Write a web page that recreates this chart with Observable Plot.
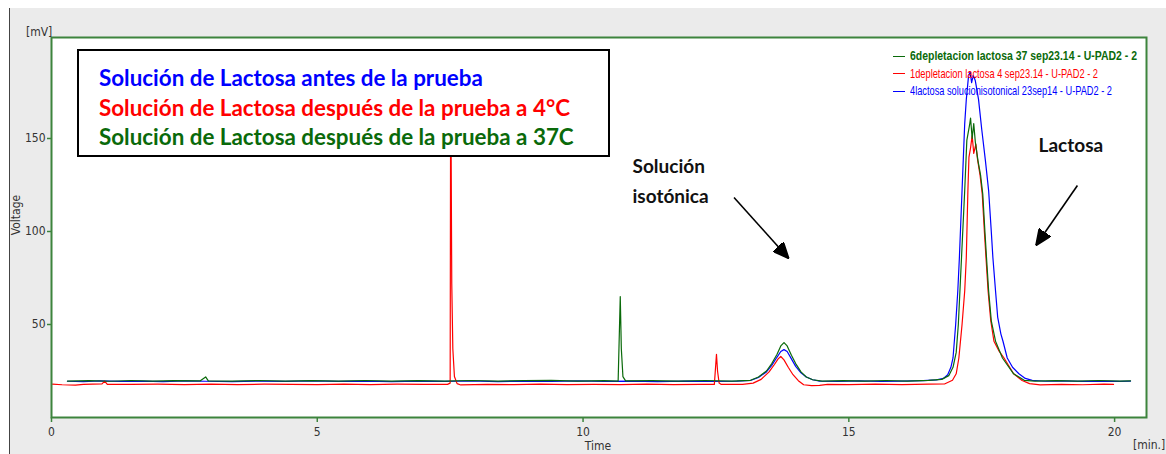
<!DOCTYPE html>
<html>
<head>
<meta charset="utf-8">
<script src="https://cdn.jsdelivr.net/npm/d3@7"></script>
<script src="https://cdn.jsdelivr.net/npm/@observablehq/plot@0.6"></script>
<style>
  html, body { margin: 0; padding: 0; background: #fff; }
  #wrap { position: relative; width: 1166px; height: 454px; overflow: hidden; background: #fff; }
  #panel { position: absolute; left: 9px; top: 8px; right: 0; bottom: 0; background: #ebebeb; border-left: 1.5px solid #444; }
  #chart { position: absolute; left: 0; top: 0; }
  .lab { position: absolute; font-family: "DejaVu Sans Condensed", "Liberation Sans", sans-serif; font-size: 12px; color: #333; white-space: nowrap; }
  #box { position: absolute; left: 77px; top: 49px; width: 533px; height: 108px; box-sizing: border-box; border: 2px solid #000; background: #fff; }
  #box div { position: absolute; left: 20px; font-family: Lato, "Open Sans", sans-serif; font-weight: 700; font-size: 22.4px; line-height: 20px; white-space: nowrap; }
  #leg { position: absolute; left: 893px; top: 47px; font-family: "Liberation Sans", sans-serif; font-size: 13px; }
  #leg div { position: relative; height: 17.5px; line-height: 17.5px; white-space: nowrap; }
  #leg span.sw { position: absolute; left: 0; top: 8.5px; width: 12px; height: 0; border-top: 1.5px solid; }
  #leg span.tx { position: absolute; left: 17px; top: 0; transform-origin: 0 50%; }
</style>
</head>
<body>
<div id="wrap">
  <div id="panel"></div>
  <div id="chart"></div>
  <div class="lab" style="left:26px; top:25px;">[mV]</div>
  <div class="lab" style="left:16px; top:215px; transform: translate(-50%,-50%) rotate(-90deg);">Voltage</div>
  <div class="lab" style="left:598px; top:439px; transform: translateX(-50%);">Time</div>
  <div class="lab" style="left:1133px; top:438px;">[min.]</div>
  <div id="leg"></div>
  <div id="box"></div>
</div>
<script>
// ---------- data ----------
const seriesNames = [
  "6depletacion lactosa 37 sep23.14 - U-PAD2 - 2",
  "1depletacion lactosa 4 sep23.14 - U-PAD2 - 2",
  "4lactosa solucionisotonical 23sep14 - U-PAD2 - 2"
];
const seriesColors = ["#0a6a0a", "#ff0000", "#0000ff"];
const boxLines = [
  "Solución de Lactosa antes de la prueba",
  "Solución de Lactosa después de la prueba a 4°C",
  "Solución de Lactosa después de la prueba a 37C"
];
const boxColors = ["#0000ff", "#ff0000", "#0a6a0a"];
const xTicks = [0, 5, 10, 15, 20];
const yTicks = [50, 100, 150];

// time [min], voltage [mV]
const blue = [
  [0.3,19.5],[0.6,19.3],[0.9,19.7],[1.3,19.4],[1.7,19.6],[2.1,19.3],[2.5,19.7],[2.9,19.5],[3.4,19.3],[3.9,19.6],
  [4.4,19.4],[4.9,19.7],[5.4,19.4],[5.9,19.6],[6.4,19.3],[6.9,19.6],[7.4,19.4],[7.9,19.7],[8.4,19.3],[8.9,19.6],
  [9.4,19.4],[9.9,19.7],[10.4,19.4],[10.9,19.6],[11.4,19.3],[11.9,19.6],[12.4,19.4],[12.9,19.6],[13.15,19.9],
  [13.3,21.5],[13.45,24.5],[13.55,28],[13.65,32.5],[13.72,35.5],[13.78,36.5],[13.84,35.5],[13.92,31.5],[14.0,27.5],
  [14.1,24],[14.2,21.8],[14.32,20.3],[14.45,19.6],[14.8,19.4],[15.2,19.7],[15.6,19.4],[16.0,19.6],[16.4,19.8],
  [16.65,20.2],[16.78,21],[16.86,23],[16.92,27],[16.96,32],[17.01,50],[17.05,68],[17.08,86],[17.13,122],[17.18,158],
  [17.21,171],[17.25,183],[17.28,186],[17.31,180],[17.34,184],[17.38,181],[17.44,171],[17.5,155],[17.57,138],
  [17.63,122],[17.68,100],[17.71,86],[17.76,68],[17.8,54],[17.86,45],[17.9,41],[17.98,32],[18.08,27],[18.2,23.5],[18.32,21],
  [18.45,20],[18.7,19.5],[19.0,19.7],[19.4,19.4],[19.8,19.6],[20.1,19.4],[20.3,19.6]
];
const green = [
  [0.3,19.6],[0.7,19.8],[1.1,19.5],[1.5,19.9],[1.9,19.6],[2.3,19.8],[2.8,19.7],[2.9,21.8],[2.95,19.7],[3.4,19.6],
  [3.9,19.9],[4.4,19.6],[4.9,19.8],[5.4,19.6],[5.9,19.9],[6.4,19.6],[6.9,19.8],[7.4,19.6],[7.9,19.9],[8.4,19.6],
  [8.9,19.8],[9.4,20],[9.9,19.6],[10.4,19.8],[10.66,19.6],[10.7,65],[10.72,37],[10.75,22],[10.8,19.7],[11.3,19.8],
  [11.8,19.6],[12.3,19.9],[12.8,19.6],[13.15,20],[13.3,21.8],[13.45,25],[13.55,29],[13.65,34],[13.72,38.5],
  [13.78,40.3],[13.84,38.5],[13.92,33.5],[14.0,29],[14.1,24.5],[14.2,21.8],[14.32,20.3],[14.5,19.6],[14.9,19.8],
  [15.3,19.6],[15.7,19.9],[16.1,19.6],[16.5,20],[16.75,20.5],[16.88,22.5],[16.96,27],[17.02,35],[17.06,50],
  [17.09,68],[17.12,86],[17.18,122],[17.22,149],[17.27,157],[17.29,161],[17.32,150],[17.35,158],[17.38,148],
  [17.43,138],[17.48,130],[17.52,120],[17.56,100],[17.59,86],[17.63,68],[17.68,52],[17.76,41],[17.89,32],[18.1,23.5],
  [18.3,20],[18.5,19.6],[18.9,19.8],[19.3,19.6],[19.7,19.9],[20.1,19.6],[20.3,19.7]
];
const red = [
  [0.02,17.9],[0.2,17.6],[0.45,17.4],[0.6,17.8],[0.95,18.1],[1.0,19.6],[1.05,17.8],[1.5,17.8],[2.0,17.9],[2.5,17.7],
  [3.0,17.9],[3.5,17.7],[4.0,17.9],[4.5,17.8],[5.0,17.7],[5.5,17.9],[6.0,17.7],[6.5,17.9],[7.0,17.8],[7.45,17.8],
  [7.5,18.5],[7.51,195],[7.53,72],[7.55,37],[7.58,22],[7.63,18.2],[7.7,17.5],[8.2,17.8],[8.7,17.7],[9.2,17.9],
  [9.7,17.7],[10.2,17.8],[10.7,17.7],[11.2,17.9],[11.7,17.7],[12.2,17.8],[12.47,17.8],[12.51,34],[12.53,25],
  [12.56,18.5],[12.6,17.8],[13.0,17.8],[13.2,18.5],[13.35,20.5],[13.5,24.5],[13.6,28.5],[13.67,31.5],[13.72,32.8],
  [13.78,31],[13.86,27],[13.95,23],[14.05,19.8],[14.15,17.6],[14.3,17.1],[14.45,17.3],[14.6,17.8],[15.0,17.7],
  [15.5,17.9],[16.0,17.7],[16.5,17.9],[16.8,18],[16.95,20],[17.02,23.5],[17.07,32],[17.13,50],[17.18,68],
  [17.21,86],[17.24,122],[17.26,140],[17.29,145],[17.32,151.6],[17.35,142],[17.39,147],[17.42,139],[17.47,130],
  [17.51,120],[17.55,100],[17.58,86],[17.62,68],[17.67,52],[17.73,41],[17.82,36],[17.92,32],[18.1,23.5],[18.26,19.9],
  [18.4,18.2],[18.6,17.5],[19.0,17.8],[19.4,17.6],[19.8,17.9],[19.98,17.8]
];

// annotations in data units (min, mV)
const notes = [
  {t: 10.93, v: 128.5, text: "Solución\nisotónica"},
  {t: 18.57, v: 147.8, text: "Lactosa"}
];
const arrows = [
  {t1: 12.84, v1: 118.3, t2: 13.87, v2: 85.5},
  {t1: 19.30, v1: 124.7, t2: 18.52, v2: 92.5}
];

// ---------- chart ----------
const frameGreen = "#3d843d";
const toRows = (arr, s) => arr.map(([t, v]) => ({t, v, s}));

const triangleHead = (color, context) => {
  const m = d3.create("svg:marker")
    .attr("viewBox", "-16 -7 16 14")
    .attr("markerWidth", 16)
    .attr("markerHeight", 14)
    .attr("markerUnits", "userSpaceOnUse")
    .attr("orient", "auto")
    .attr("refX", 0).attr("refY", 0);
  m.append("path").attr("d", "M-16,-7L0,0L-16,7Z").attr("fill", "#000");
  return m.node();
};

const chart = Plot.plot({
  width: 1166,
  height: 454,
  marginLeft: 51,
  marginRight: 20,
  marginTop: 37,
  marginBottom: 37,
  style: {background: "transparent", fontFamily: "'DejaVu Sans Condensed', 'Liberation Sans', sans-serif", fontSize: "12px", overflow: "visible"},
  x: {domain: [0, 20.6], label: null},
  y: {domain: [0, 204.3], label: null},
  marks: [
    Plot.frame({fill: "white", stroke: null}),
    Plot.line(toRows(blue, "b"), {x: "t", y: "v", stroke: "#0000ff", strokeWidth: 1.2, clip: true}),
    Plot.line(toRows(red, "r"), {x: "t", y: "v", stroke: "#ff0000", strokeWidth: 1.2, clip: true}),
    Plot.line(toRows(green, "g"), {x: "t", y: "v", stroke: "#0a6a0a", strokeWidth: 1.2, clip: true}),
    Plot.axisX(xTicks, {tickSize: 5, tickPadding: 5, stroke: frameGreen, strokeWidth: 1.5, fill: "#333", label: null, fontSize: 12}),
    Plot.axisY(yTicks, {tickSize: 4, tickPadding: 2, stroke: frameGreen, strokeWidth: 1.5, fill: "#333", label: null, fontSize: 12}),
    Plot.frame({stroke: frameGreen, strokeWidth: 2}),
    Plot.text(notes, {x: "t", y: "v", text: "text", textAnchor: "start", lineAnchor: "middle", lineHeight: 1.55,
      fontFamily: "Lato, 'Open Sans', sans-serif", fontWeight: 700, fontSize: 19, fill: "#111"}),
    Plot.link(arrows, {x1: "t1", y1: "v1", x2: "t2", y2: "v2", stroke: "#000", strokeWidth: 1.6, markerEnd: triangleHead})
  ]
});
document.getElementById("chart").appendChild(chart);

// legend (top right)
const legWidths = [227, 188, 202];
const leg = document.getElementById("leg");
seriesNames.forEach((n, i) => {
  const d = document.createElement("div");
  d.style.color = seriesColors[i];
  if (i === 0) d.style.fontWeight = "700";
  const sw = document.createElement("span");
  sw.className = "sw";
  sw.style.borderColor = seriesColors[i];
  const tx = document.createElement("span");
  tx.className = "tx";
  tx.textContent = n;
  d.appendChild(sw);
  d.appendChild(tx);
  leg.appendChild(d);
  const w = tx.getBoundingClientRect().width;
  if (w > 0) tx.style.transform = `scaleX(${legWidths[i] / w})`;
});

// annotation box
const box = document.getElementById("box");
boxLines.forEach((t, i) => {
  const d = document.createElement("div");
  d.textContent = t;
  d.style.color = boxColors[i];
  d.style.top = (17 + i * 29.5) + "px";
  box.appendChild(d);
});
</script>
</body>
</html>
